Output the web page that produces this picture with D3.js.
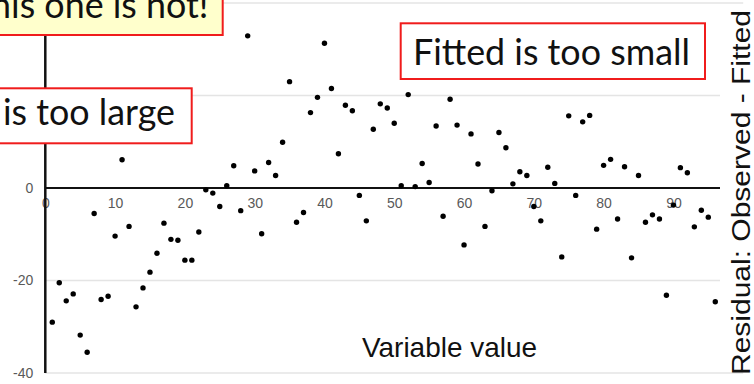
<!DOCTYPE html>
<html><head><meta charset="utf-8">
<script src="https://cdn.jsdelivr.net/npm/d3@7"></script>
<style>html,body{margin:0;padding:0;background:#fff;}svg{display:block;}</style>
</head><body>
<svg id="chart" width="754" height="384"></svg>
<script>
// ---- data ----
const variableValue = [1,2,3,4,5,6,7,8,9,10,11,12,13,14,15,16,17,18,19,20,21,22,23,24,25,26,27,28,29,30,31,32,33,34,35,36,37,38,39,40,41,42,43,44,45,46,47,48,49,50,51,52,53,54,55,56,57,58,59,60,61,62,63,64,65,66,67,68,69,70,71,72,73,74,75,76,77,78,79,80,81,82,83,84,85,86,87,88,89,90,91,92,93,94,95,96];
const residual = [-29.0,-20.5,-24.4,-22.9,-31.8,-35.5,-5.5,-24.1,-23.4,-10.4,
  6.1,-8.3,-25.7,-21.6,-18.2,-14.1,-7.6,-11.1,-11.3,-15.6,
  -15.6,-9.5,-0.4,-1.1,-4.0,0.5,4.8,-4.9,32.9,3.7,
  -9.9,5.5,2.7,9.9,23.0,-7.4,-5.3,16.3,19.6,31.3,
  21.5,7.4,17.9,16.7,-1.6,-7.1,12.7,18.2,17.3,14.0,
  0.5,20.2,0.3,5.3,1.2,13.4,-6.1,19.2,13.6,-12.3,
  11.7,5.2,-8.3,-0.6,12.0,8.7,0.9,3.5,2.7,-4.0,
  -7.1,4.5,1.0,-14.9,15.6,-1.6,14.3,15.7,-8.9,4.9,
  6.2,-6.7,4.6,-15.1,2.7,-7.4,-5.8,-6.7,-23.2,-3.7,
  4.4,3.3,-8.4,-4.8,-6.3,-24.6];
const xTickLabels = [0,10,20,30,40,50,60,70,80,90];
const yGridValues = [40,20,-20,-40];
const yTickLabels = [0,-20,-40];
const xTitle = "Variable value";
const yTitle = "Residual: Observed - Fitted";
const noteTop = "This one is not!";
const noteLarge = "Fitted is too large";
const noteSmall = "Fitted is too small";

// ---- chart ----
const svg = d3.select("#chart");
const x = d3.scaleLinear().domain([0,100]).range([45.3,743.2]);
const y = d3.scaleLinear().domain([-40,40]).range([373,3]);
const tickFont = "'Liberation Sans', Arial, sans-serif";

// gridlines
svg.append("g").selectAll("line").data(yGridValues).join("line")
  .attr("x1", x(0)).attr("x2", x(100))
  .attr("y1", d=>y(d)).attr("y2", d=>y(d))
  .attr("stroke", "#e4e4e4").attr("stroke-width", 1.5);

// y tick labels
const yAxis = d3.axisLeft(y).tickValues(yTickLabels).tickSize(0).tickPadding(12).tickFormat(d=>String(d));
const gy = svg.append("g").attr("transform", `translate(${x(0)},0)`).call(yAxis);
gy.select(".domain").remove();
gy.selectAll("text").attr("fill","#595959").style("font-family",tickFont).style("font-size","14px");

// x axis line + labels
svg.append("line").attr("x1", x(0)).attr("x2", x(100)).attr("y1", y(0)).attr("y2", y(0))
  .attr("stroke","#111").attr("stroke-width",2);
const xAxis = d3.axisBottom(x).tickValues(xTickLabels).tickSize(0).tickPadding(10).tickFormat(d=>String(d));
const gx = svg.append("g").attr("transform", `translate(0,${y(0)})`).call(xAxis);
gx.select(".domain").remove();
gx.selectAll("text").attr("fill","#595959").style("font-family",tickFont).style("font-size","14px");

// y axis line
svg.append("line").attr("x1", x(0)).attr("x2", x(0)).attr("y1", 0).attr("y2", y(-40))
  .attr("stroke","#111").attr("stroke-width",2.5);

// points
svg.append("g").selectAll("circle").data(variableValue.map((v,i)=>[v,residual[i]])).join("circle")
  .attr("cx", d=>x(d[0])).attr("cy", d=>y(d[1])).attr("r", 2.7).attr("fill","#000");

// right title with white box
svg.append("rect").attr("x",720).attr("y",6).attr("width",40).attr("height",364).attr("fill","#fff");
svg.append("text").attr("transform","translate(750,192.5) rotate(-90)")
  .attr("text-anchor","middle").attr("textLength",365).attr("lengthAdjust","spacingAndGlyphs")
  .style("font-family",tickFont).style("font-size","25.5px").attr("fill","#111")
  .text(yTitle);

// x title
svg.append("text").attr("x",362).attr("y",357.3).attr("textLength",175).attr("lengthAdjust","spacingAndGlyphs")
  .style("font-family",tickFont).style("font-size","28.5px").attr("fill","#111")
  .text(xTitle);

// annotation boxes
const boxFont = "Lato, 'Open Sans', sans-serif";
const probe = svg.append("text").style("font-family",boxFont).style("font-size","100px").text(noteSmall);
const fs = 100*277/probe.node().getComputedTextLength();
probe.remove();

function box(rx, ry, rw, rh, fill, txt, tx, ty, anchor){
  svg.append("rect").attr("x",rx).attr("y",ry).attr("width",rw).attr("height",rh)
    .attr("fill",fill).attr("stroke","#f01c1c").attr("stroke-width",2);
  svg.append("text").attr("x",tx).attr("y",ty).attr("text-anchor",anchor)
    .style("font-family",boxFont).style("font-size",fs+"px").attr("fill","#111").text(txt);
}
box(-10,-10,232.7,45,"#ffffcc",noteTop,208.5,18,"end");
box(-10,88.3,201.7,55,"#ffffff",noteLarge,175,125,"end");
box(400.7,23.3,304.3,55.7,"#ffffff",noteSmall,413,65,"start");
</script>
</body></html>
